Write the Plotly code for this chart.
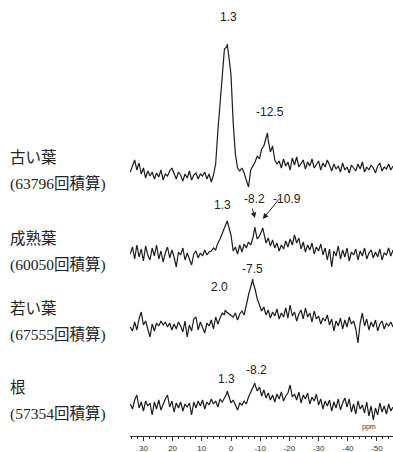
import numpy as np
import plotly.graph_objects as go

# Chemical-shift sampling of the stacked spectra (ppm, high -> low)
ppm_grid = np.round(34.5 - 0.75 * np.arange(121), 2)

# Sample names and scan counts
sample_names = ["古い葉", "成熟葉", "若い葉", "根"]
scan_counts = ["63796", "60050", "67555", "57354"]

# Signal intensity (arbitrary units) on ppm_grid for each sample
old_leaf = [
    4, 10, 16, 6, 13, 2, 8,
    -2, 5, 0, 4, -3, 3, -1, 6, -4, 2, 0, 5, 8,
    3, -3, 4, 1, -5, 2, -2, 5, -4, 1, 3, -3, 2,
    0, 4, -3, 2, -6, 1,
    12, 45, 72, 100, 127, 129, 120, 101, 53, 22, 8, 5, 8, 3,
    -4, -11, 6, 10, 14, 20, 17, 27, 30, 38, 36, 24, 30, 16, 12,
    15, 8, 17, 10, 14, 6, 18, 11, 19, 9, 13, 16, 7, 14, 10, 17, 8, 12, 15, 6, 13, 9, 16, 11,
    5, 12, 7, 10, 4, 13, 6, 9, 3, 11, 8, 5, 12, 7, 14, 4, 9, 6, 11, 8, 3, 10, 13, 5, 9, 7, 12, 6, 10,
]
mature_leaf = [
    3, 10, -2, 12, 0, 8, -4, 11, 2, -3, 9, 1, 12, -2, 6, -5, 4, 10, -1, 7,
    0, -10, 5, 2, 9, -3, 4, -2, -8, 3, 6, -1, 4, 1, 7, 2, 5,
    6, 9, 7, 14, 18, 24, 29, 34, 30, 22, 6, 10, 3, 12, 5, 13, 9, 15, 12, 19,
    28, 18, 21, 26, 24, 14, 19, 11, 17, 9, 14, 6, 12, 8, 16, 10, 18, 12, 22, 14, 19, 8,
    15, 5, 12, 7, 14, 3, 10, 6, 13, 2, 9, -3, 8, -10, 6, 1, 11, -2, 7, 0, 9, -4,
    5, 2, 8, -3, 6, 1, 9, -2, 4, 7, -1, 5, 0, 8, -3, 4, 2, 9, 1, 7,
]
young_leaf = [
    0, -4, 5, -3, 8, 15, 2, 6, -2, -10, 3, -4, 4, 1, 6, 2, 5, 0, 4, -3,
    3, -2, 5, 1, -5, 6, -10, 2, -4, 8, 10, -3, 5, -1, -6, 4, 1, 7, -2, 10,
    3, 9, 14, 12, 15, 13, 12, 10, 14, 7, 13, 16, 12, 24, 32, 40, 45, 38, 28, 22,
    16, 20, 12, 17, 9, 15, 11, 18, 8, 14, 10, 19, 9, 22, 11, 15, 6, 13, 17, 8,
    19, 10, 14, 5, 16, 8, 11, 3, 9, 6, 12, 2, 8, -4, 6, 1, 9, -2, 7, 0,
    10, 3, 6, -2, -16, 4, 14, 1, 8, -3, 5, 0, 7, -4, 3, 6, -2, 4, 1, 5, 0,
]
root = [
    2, -3, 6, 11, -2, 4, -5, 5, 0, 3, -9, 4, -3, 6, -4, 2, 7, 11, -1, 5,
    -6, 3, -2, 4, -5, 2, -1, 3, -9, 4, -2, 5, 0, 6, -3, 4, 1, 7, 2, 5,
    -1, 7, 4, 8, 12, 9, 3, 6, 0, -4, 3, 1, 5, 2, 9, 14, 18, 21, 15, 19,
    10, 16, 8, 13, 6, 11, 4, 12, 7, 14, 5, 10, 13, 21, 9, 12, 6, 14, 3, 11,
    7, 13, 2, 9, 5, 12, 1, 7, -3, 5, 0, 6, -5, 4, -2, 7, -4, 3, 8, -1,
    7, -6, 2, -8, 5, -3, 1, -7, 4, -10, 0, -14, -2, -9, 3, -6, 0, -8, 2, -5, -1,
]
spectra = [old_leaf, mature_leaf, young_leaf, root]

# Labelled peak maxima (ppm) and their intensities
peak_ppm = [[1.3, -12.5], [1.3, -8.2, -10.9], [2.0, -7.5], [1.3, -8.2]]
peak_height = [[132, 43], [36, 30, 29], [17, 48], [15, 23]]

# Vertical stacking of the four spectra (plot units above the ppm axis)
stack_offset = [260, 179, 109, 30]

fig = go.Figure()

for values, pk_x, pk_y, off in zip(spectra, peak_ppm, peak_height, stack_offset):
    xs = list(ppm_grid) + pk_x
    ys = list(values) + pk_y
    order = np.argsort(xs)[::-1]
    fig.add_trace(go.Scatter(
        x=np.array(xs)[order],
        y=np.array(ys)[order] + off,
        mode="lines",
        line=dict(color="#1c1c1c", width=1.2),
        hoverinfo="skip",
        showlegend=False,
    ))

label_font = dict(family="Liberation Sans, Arial, sans-serif", size=12, color="#222")
# Offsets (px) of each peak label from its peak maximum
label_shift = [[(1, 27), (3, 21)], [(-5, 16), (0, 28), (24, 29)], [(-6, 23), (0, 10)], [(-1, 12), (2, 13)]]
for pk_x, pk_y, off, shifts in zip(peak_ppm, peak_height, stack_offset, label_shift):
    for px, py, (dx, dy) in zip(pk_x, pk_y, shifts):
        fig.add_annotation(
            x=px, y=off + py, text=f"{px:.1f}", showarrow=False,
            xshift=dx, yshift=dy, font=label_font,
        )

# Arrows marking the two overlapping peaks of the mature leaf
for px, py, ax, ay in [(-8.2, 30, -3, -11), (-10.9, 29, 18, -22)]:
    fig.add_annotation(
        x=px, y=stack_offset[1] + py + 9, text="", showarrow=True,
        ax=ax, ay=ay, arrowhead=2, arrowsize=1.1, arrowwidth=1, arrowcolor="#222",
    )

# Sample names and accumulation counts on the left
name_font = dict(family="Liberation Serif, Noto Sans CJK JP, serif", size=15.5, color="#222")
for name, count, off in zip(sample_names, scan_counts, stack_offset):
    fig.add_annotation(xref="paper", x=8 / 393, y=off + 19, text=name,
                       showarrow=False, xanchor="left", font=name_font)
    fig.add_annotation(xref="paper", x=8 / 393, y=off - 7, text=f"({count}回積算)",
                       showarrow=False, xanchor="left", font=name_font)

fig.add_annotation(xref="paper", x=378 / 393, y=9, text="ppm", showarrow=False,
                   font=dict(family="Liberation Sans, Arial, sans-serif", size=7, color="#333"))

tick_vals = [30, 20, 10, 0, -10, -20, -30, -40, -50]
fig.update_xaxes(
    domain=[130 / 393, 1], range=[34.6, -55.5],
    tickvals=tick_vals, ticktext=[str(v) for v in tick_vals],
    ticks="outside", ticklen=4, tickwidth=1, tickcolor="#333",
    minor=dict(dtick=2, ticks="outside", ticklen=2, tickcolor="#333"),
    showline=True, linecolor="#333", linewidth=1,
    showgrid=False, zeroline=False,
    tickfont=dict(family="Liberation Sans, Arial, sans-serif", size=8, color="#333"),
)
fig.update_yaxes(range=[0, 436], visible=False, showgrid=False, zeroline=False)
fig.update_layout(
    width=393, height=452,
    margin=dict(l=0, r=0, t=0, b=16),
    paper_bgcolor="white", plot_bgcolor="white",
)

fig.write_html("out.html")
